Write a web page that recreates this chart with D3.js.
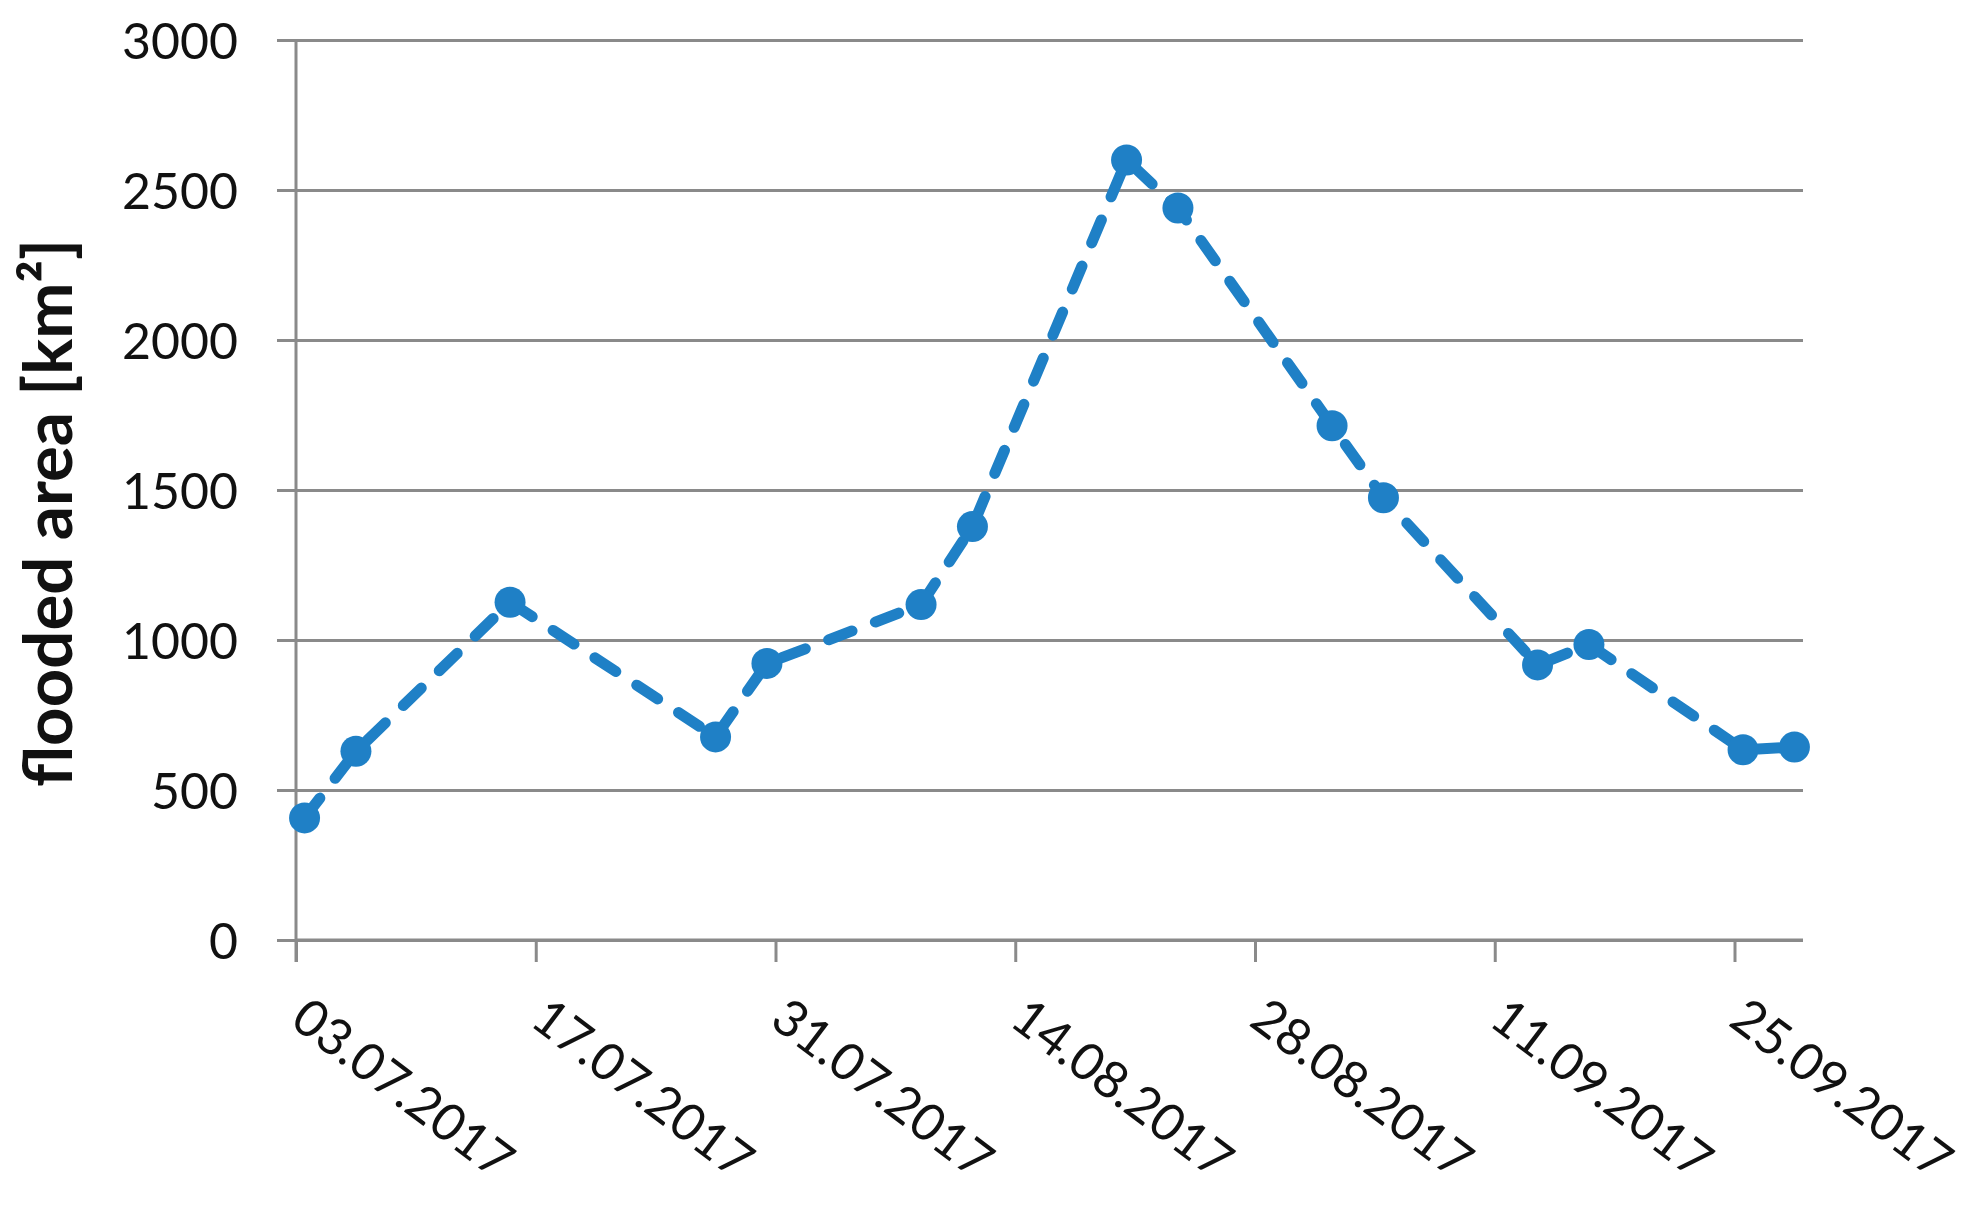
<!DOCTYPE html>
<html>
<head>
<meta charset="utf-8">
<script src="https://cdn.jsdelivr.net/npm/d3@7/dist/d3.min.js"></script>
<style>
  html, body { margin: 0; padding: 0; background: #fff; }
  svg { display: block; }
  text { font-family: Lato, "Open Sans", sans-serif; fill: #111; }
</style>
</head>
<body>
<svg id="chart" width="1974" height="1230"></svg>
<script>
// ---- data ----
const dates = ["03.07.2017","06.07.2017","15.07.2017","27.07.2017","30.07.2017",
               "08.08.2017","11.08.2017","20.08.2017","23.08.2017","01.09.2017",
               "04.09.2017","13.09.2017","16.09.2017","25.09.2017","28.09.2017"];
const floodedArea = [407, 629, 1126, 677, 922, 1118, 1378, 2600, 2440, 1714, 1474, 917, 985, 634, 643];
const xTickLabels = ["03.07.2017","17.07.2017","31.07.2017","14.08.2017","28.08.2017","11.09.2017","25.09.2017"];
const yTicks = [0, 500, 1000, 1500, 2000, 2500, 3000];
const yTitle = "flooded area [km²]";
const axisStart = "03.07.2017";
const axisEnd = "29.09.2017";

// ---- setup ----
const parse = d3.timeParse("%d.%m.%Y");
const fmt = d3.timeFormat("%d.%m.%Y");
const svg = d3.select("#chart");
const mLeft = 296, mRight = 1803, mTop = 40, mBottom = 940;
const gridColor = "#8a8a8a";
const lineColor = "#1f80c6";

const x = d3.scaleTime().domain([parse(axisStart), parse(axisEnd)]).range([mLeft, mRight]);
const y = d3.scaleLinear().domain([0, 3000]).range([mBottom, mTop]);

// gridlines (+ left ticks)
const yAxis = d3.axisLeft(y).tickValues(yTicks).tickSize(-(mRight - mLeft)).tickFormat(d3.format("d")).tickPadding(0);
const gy = svg.append("g").attr("transform", `translate(${mLeft},0)`).call(yAxis);
gy.select(".domain").remove();
gy.selectAll(".tick line").attr("x1", -19).attr("stroke", gridColor).attr("stroke-width", 3);
gy.selectAll(".tick text")
  .attr("x", -58).attr("dy", "0.36em")
  .style("font-size", "50px").style("font-family", "Lato, 'Open Sans', sans-serif")
  .attr("fill", "#111").attr("text-anchor", "end");

// x axis
const xTicks = xTickLabels.map(parse);
const xAxis = d3.axisBottom(x).tickValues(xTicks).tickSize(22).tickFormat(fmt);
const gx = svg.append("g").attr("transform", `translate(0,${mBottom})`).call(xAxis);
gx.select(".domain").attr("stroke", gridColor).attr("stroke-width", 3).attr("d", `M${mLeft},0H${mRight}`);
gx.selectAll(".tick line").attr("stroke", gridColor).attr("stroke-width", 3);
gx.selectAll(".tick text")
  .attr("y", null).attr("dy", null)
  .attr("transform", "translate(14,55) rotate(37)")
  .attr("dy", "0.72em")
  .attr("text-anchor", "start")
  .style("font-size", "51px").style("font-family", "Lato, 'Open Sans', sans-serif")
  .attr("fill", "#111");

// y axis line
svg.append("line").attr("x1", mLeft).attr("x2", mLeft).attr("y1", mTop).attr("y2", mBottom + 22)
  .attr("stroke", gridColor).attr("stroke-width", 3);

// y title
const title = svg.append("text")
  .attr("transform", "translate(72,513) rotate(-90)")
  .attr("text-anchor", "middle")
  .style("font-weight", "bold")
  .style("font-size", "64px")
  .text(yTitle);
const tl = title.node().getComputedTextLength();
title.style("font-size", (64 * 548 / tl).toFixed(1) + "px");

// data series
const pts = dates.map((d, i) => ({ date: d3.timeHour.offset(parse(d), 12), v: floodedArea[i] }));
const line = d3.line().x(d => x(d.date)).y(d => y(d.v));
svg.append("path").datum(pts)
  .attr("d", line)
  .attr("fill", "none")
  .attr("stroke", lineColor)
  .attr("stroke-width", 11)
  .attr("stroke-linecap", "round")
  .attr("stroke-linejoin", "round")
  .attr("stroke-dasharray", "25,25");
svg.append("g").selectAll("circle").data(pts).join("circle")
  .attr("cx", d => x(d.date)).attr("cy", d => y(d.v)).attr("r", 15.5)
  .attr("fill", lineColor);
</script>
</body>
</html>
